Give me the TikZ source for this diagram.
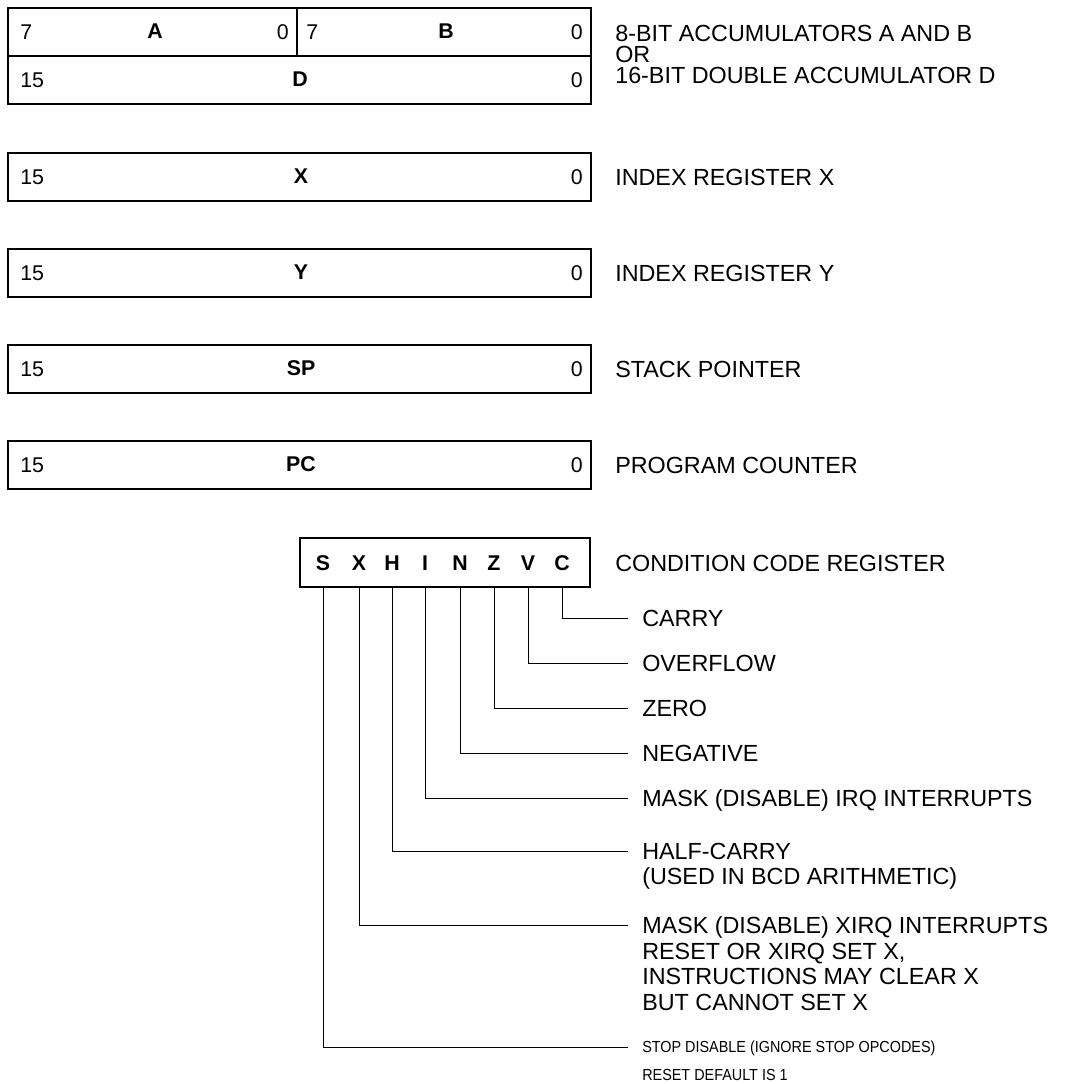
\documentclass[tikz,border=0pt]{standalone}
\usepackage{fontspec}
\setmainfont{Liberation Sans}
\begin{document}
\begin{tikzpicture}[x=0.75pt,y=-0.75pt,
  rowbox/.style={draw, line width=1.3pt, minimum height=36pt, inner sep=0pt},
  ccrbox/.style={draw, line width=1.6pt, minimum height=36.75pt, minimum width=217.5pt, inner sep=0pt},
  num/.style={font=\fontsize{16}{18}\selectfont, inner sep=0pt},
  regname/.style={font=\bfseries\fontsize{16}{18}\selectfont, inner sep=0pt},
  bitname/.style={font=\bfseries\fontsize{16}{18}\selectfont, inner sep=0pt},
  lbl/.style={font=\fontsize{17.5}{19}\selectfont, anchor=base west, inner sep=0pt, align=left},
  leader/.style={line width=0.75pt}]
\useasboundingbox (0,0) rectangle (1064,1084);

% accumulators
\node[rowbox, minimum width=216.75pt] (A) at (152.5,32) {};
\node[rowbox, minimum width=220.5pt] (B) at (444,32) {};
\node[rowbox, minimum width=437.25pt] (D) at (299.5,80) {};
\node[num, anchor=west] (a7) at (20,32) {7};
\node[regname] (aN) at (155,31) {A};
\node[num, anchor=east] (a0) at (289,32) {0};
\node[num, anchor=west] (b7) at (306,32) {7};
\node[regname] (bN) at (446,31) {B};
\node[num, anchor=east] (b0) at (583,32) {0};
\node[num, anchor=west] (d15) at (20,80) {15};
\node[regname] (dN) at (300,79) {D};
\node[num, anchor=east] (d0) at (583,80) {0};
\node[lbl, font=\fontsize{17.5}{15.75}\selectfont] (labAB) at (615,83.3) {8-BIT ACCUMULATORS A AND B\\OR\\16-BIT DOUBLE ACCUMULATOR D};

% 16-bit registers
\foreach \nm/\yy/\txt in {X/177/INDEX REGISTER X, Y/273/INDEX REGISTER Y, SP/369/STACK POINTER, PC/465/PROGRAM COUNTER}{
  \node[rowbox, minimum width=437.25pt] (R\nm) at (299.5,\yy) {};
  \node[num, anchor=west] (R\nm hi) at (20,\yy) {15};
  \node[regname] (R\nm name) at (301,\yy-1) {\nm};
  \node[num, anchor=east] (R\nm lo) at (583,\yy) {0};
  \node[lbl] (R\nm lab) at (615,\yy+8.3) {\txt};
}

% condition code register
\node[ccrbox] (ccr) at (445,562.5) {};
\foreach \b/\xx in {S/323, X/359, H/392, I/425, N/460, Z/494, V/528, C/562}{
  \node[bitname] (bit\b) at (\xx,563) {\b};
}
\node[lbl] (ccrlab) at (615,571.3) {CONDITION CODE REGISTER};

% leaders and bit descriptions
\foreach \b/\yy in {C/618, V/663, Z/708, N/753, I/798, H/851, X/925, S/1047}{
  \coordinate (end\b) at (628,\yy);
  \draw[leader] (ccr.south -| bit\b) |- (end\b);
}
\node[lbl] (dC) at (642,626.3) {CARRY};
\node[lbl] (dV) at (642,671.3) {OVERFLOW};
\node[lbl] (dZ) at (642,716.3) {ZERO};
\node[lbl] (dN) at (642,761.3) {NEGATIVE};
\node[lbl] (dI) at (642,806.3) {MASK (DISABLE) IRQ INTERRUPTS};
\node[lbl, font=\fontsize{17.5}{18.5}\selectfont] (dH) at (642,884) {HALF-CARRY\\(USED IN BCD ARITHMETIC)};
\node[lbl, font=\fontsize{17.5}{19.3}\selectfont] (dX) at (642,1010.5) {MASK (DISABLE) XIRQ INTERRUPTS\\RESET OR XIRQ SET X,\\INSTRUCTIONS MAY CLEAR X\\BUT CANNOT SET X};
\node[lbl, font=\fontsize{12}{21}\selectfont] (dS) at (642,1080.5) {\scalebox{0.9}[1]{STOP DISABLE (IGNORE STOP OPCODES)}\\\scalebox{0.9}[1]{RESET DEFAULT IS 1}};
\end{tikzpicture}
\end{document}
